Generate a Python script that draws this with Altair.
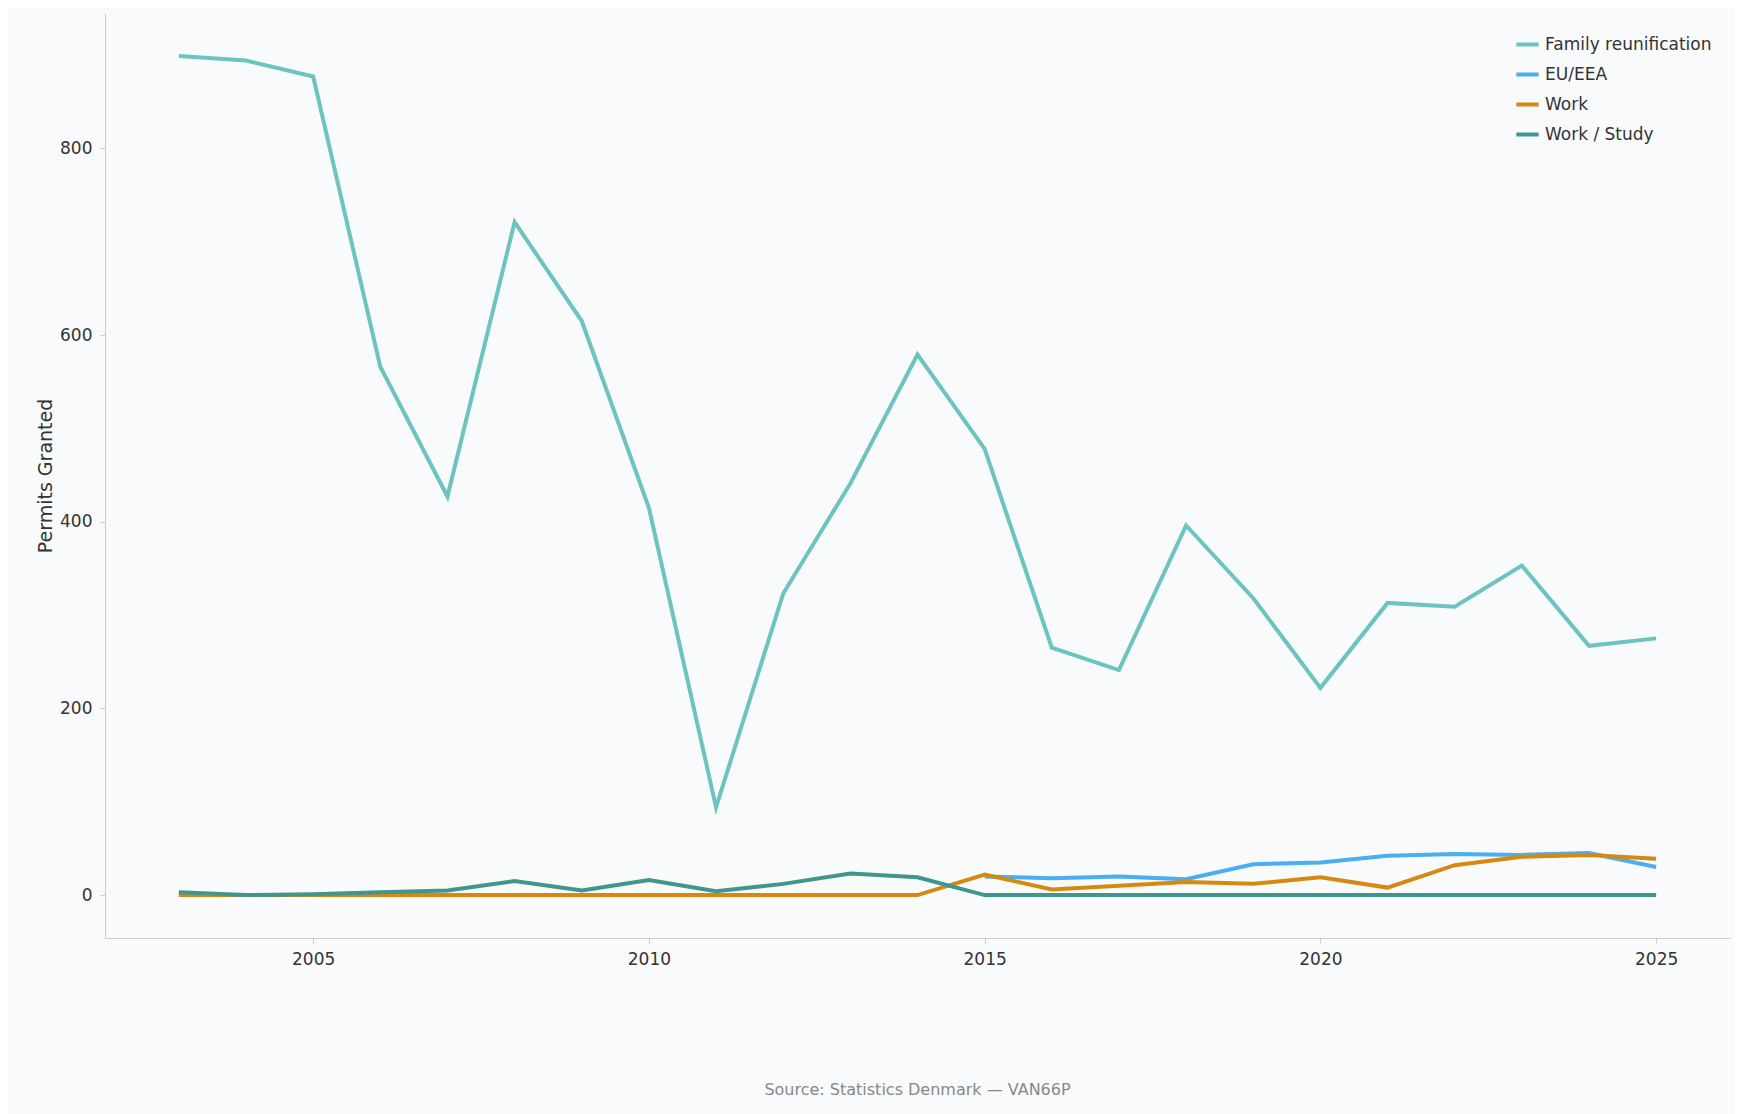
import altair as alt
import pandas as pd

years = list(range(2003, 2026))
family = [899, 894, 877, 566, 427, 721, 615, 415, 94, 323, 441, 579, 478,
          265, 241, 396, 318, 222, 313, 309, 353, 267, 275]
eu_years = list(range(2015, 2026))
eu = [20, 18, 20, 17, 33, 35, 42, 44, 43, 45, 30]
work = [0] * 12 + [22, 6, 10, 14, 12, 19, 8, 32, 41, 43, 39]
work_study = [3, 0, 1, 3, 5, 15, 5, 16, 4, 12, 23, 19] + [0] * 11

series = ["Family reunification", "EU/EEA", "Work", "Work / Study"]
colors = ["#6cc3bf", "#4aaef0", "#d68910", "#3e968e"]

rows = []
rows += [{"year": y, "v": v, "s": series[0]} for y, v in zip(years, family)]
rows += [{"year": y, "v": v, "s": series[1]} for y, v in zip(eu_years, eu)]
rows += [{"year": y, "v": v, "s": series[2]} for y, v in zip(years, work)]
rows += [{"year": y, "v": v, "s": series[3]} for y, v in zip(years, work_study)]
df = pd.DataFrame(rows)
order = {s: i for i, s in enumerate(series)}
df["o"] = df["s"].map(order)

chart = alt.Chart(df).mark_line(strokeWidth=4, clip=True).encode(
    x=alt.X("year:Q", title=None,
            scale=alt.Scale(domain=[2001.9, 2026.1], nice=False, zero=False),
            axis=alt.Axis(values=[2005, 2010, 2015, 2020, 2025], format="d",
                          labelPadding=8)),
    y=alt.Y("v:Q", title="Permits Granted",
            scale=alt.Scale(domain=[-46, 945], nice=False, zero=False),
            axis=alt.Axis(values=[0, 200, 400, 600, 800], labelPadding=8)),
    color=alt.Color("s:N", sort=series,
                    scale=alt.Scale(domain=series, range=colors),
                    legend=alt.Legend(title=None, orient="top-right",
                                      symbolType="stroke", symbolStrokeWidth=4,
                                      symbolSize=500, labelFontSize=17,
                                      labelLimit=0, labelColor="#333333",
                                      rowPadding=8, fillColor="#f9fafb")),
    order="o:Q",
    detail="s:N",
).properties(
    width=1625, height=925,
    padding={"left": 28, "top": 5, "right": 5, "bottom": 30},
    title=alt.TitleParams("Source: Statistics Denmark — VAN66P", orient="bottom",
                          fontSize=16, color="#888888", fontWeight="normal",
                          offset=115),
).configure(
    background="#f9fafb", font="DejaVu Sans",
).configure_view(stroke=None).configure_axis(
    grid=False, domainColor="#cccccc", tickColor="#cccccc", tickSize=5,
    labelFontSize=17, labelColor="#333333", titleFontSize=19,
    titleColor="#333333", titleFontWeight="normal",
)

chart.save("out.html", embed_options={"renderer": "svg", "actions": False})
